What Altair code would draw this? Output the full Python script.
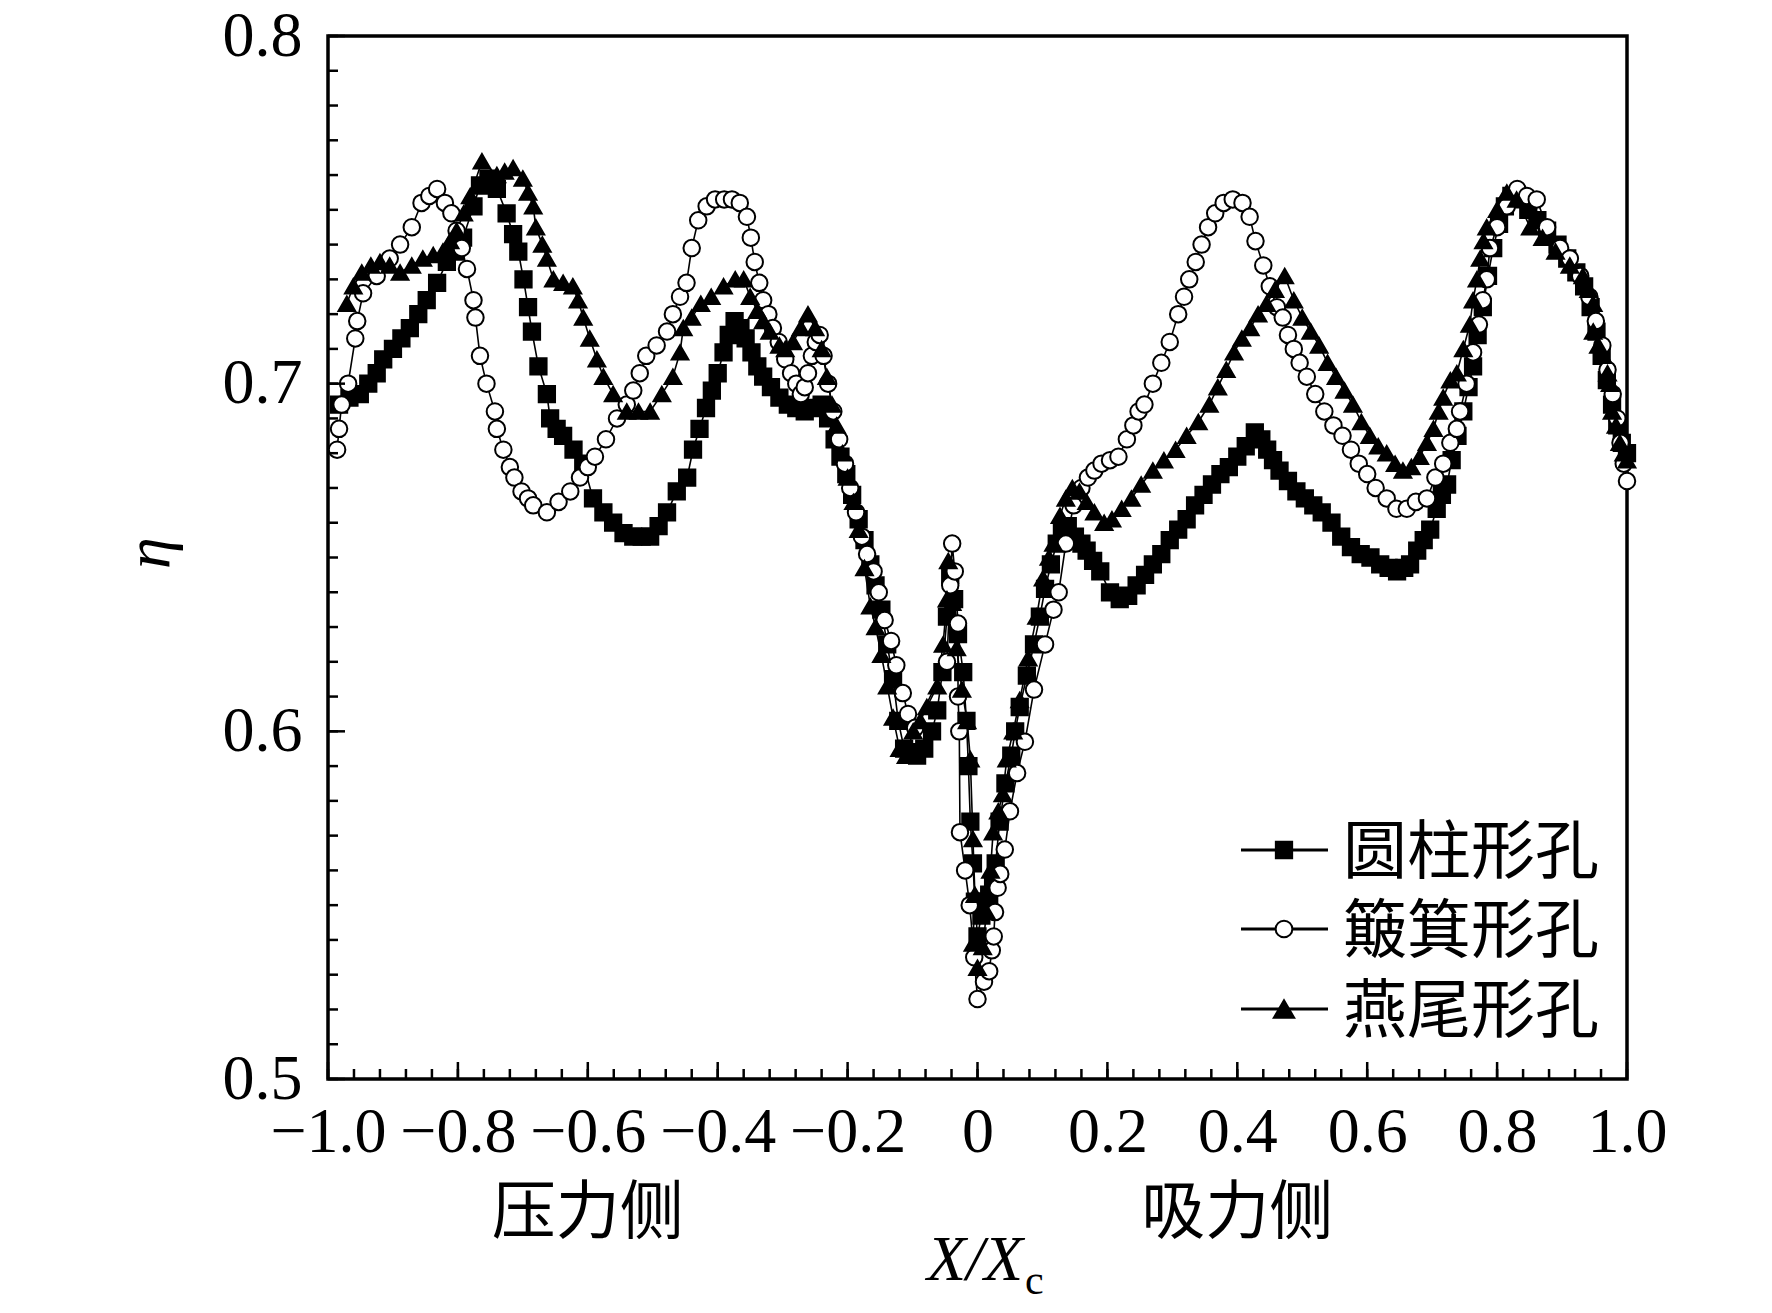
import altair as alt
import pandas as pd

# ---------------- data ----------------
names = ["圆柱形孔", "簸箕形孔", "燕尾形孔"]

cyl_x = [-0.983, -0.967, -0.951, -0.938, -0.925, -0.915, -0.900, -0.887, -0.874, -0.861,
         -0.848, -0.832, -0.817, -0.804, -0.792, -0.776, -0.766, -0.753, -0.740, -0.725,
         -0.715, -0.707, -0.699, -0.692, -0.686, -0.676, -0.663, -0.658, -0.648, -0.638,
         -0.622, -0.607, -0.592, -0.576, -0.561, -0.545, -0.530, -0.517, -0.504, -0.491,
         -0.478, -0.463, -0.447, -0.438, -0.428, -0.418, -0.409, -0.400, -0.391, -0.383,
         -0.374, -0.365, -0.357, -0.348, -0.339, -0.330, -0.318, -0.305, -0.292, -0.279,
         -0.266, -0.252, -0.240, -0.230, -0.220, -0.211, -0.202, -0.193, -0.183, -0.174,
         -0.165, -0.157, -0.148, -0.139, -0.130, -0.122, -0.113, -0.104, -0.093, -0.082,
         -0.070, -0.062, -0.054, -0.047, -0.042, -0.036, -0.030, -0.022, -0.017, -0.014,
         -0.011, -0.007, -0.004, 0.000, 0.006, 0.012, 0.018, 0.024, 0.028, 0.034,
         0.043, 0.052, 0.058, 0.065, 0.076, 0.087, 0.096, 0.104, 0.113, 0.122,
         0.130, 0.139, 0.150, 0.160, 0.168, 0.178, 0.189, 0.204, 0.219, 0.232,
         0.245, 0.258, 0.270, 0.283, 0.296, 0.309, 0.322, 0.335, 0.348, 0.361,
         0.374, 0.387, 0.400, 0.413, 0.427, 0.437, 0.446, 0.455, 0.465, 0.478,
         0.491, 0.504, 0.517, 0.530, 0.545, 0.560, 0.575, 0.590, 0.605, 0.620,
         0.633, 0.646, 0.657, 0.666, 0.677, 0.687, 0.697, 0.707, 0.715, 0.723,
         0.730, 0.739, 0.748, 0.756, 0.763, 0.770, 0.778, 0.786, 0.794, 0.803,
         0.812, 0.822, 0.835, 0.848, 0.862, 0.877, 0.893, 0.908, 0.922, 0.934,
         0.944, 0.953, 0.961, 0.969, 0.977, 0.985, 0.992, 1.000]
cyl_y = [0.694, 0.696, 0.697, 0.700, 0.703, 0.707, 0.710, 0.713, 0.716, 0.720,
         0.724, 0.729, 0.735, 0.738, 0.742, 0.751, 0.757, 0.759, 0.756, 0.749,
         0.743, 0.738, 0.730, 0.722, 0.715, 0.705, 0.697, 0.690, 0.687, 0.685,
         0.681, 0.677, 0.667, 0.663, 0.660, 0.657, 0.656, 0.656, 0.656, 0.659,
         0.663, 0.669, 0.673, 0.681, 0.687, 0.693, 0.698, 0.703, 0.709, 0.714,
         0.718, 0.716, 0.713, 0.709, 0.705, 0.702, 0.699, 0.696, 0.694, 0.693,
         0.692, 0.693, 0.694, 0.690, 0.684, 0.679, 0.674, 0.668, 0.661, 0.655,
         0.648, 0.642, 0.635, 0.625, 0.615, 0.603, 0.595, 0.594, 0.593, 0.595,
         0.600, 0.606, 0.617, 0.633, 0.645, 0.638, 0.628, 0.617, 0.603, 0.590,
         0.574, 0.562, 0.551, 0.541, 0.547, 0.551, 0.553, 0.556, 0.562, 0.574,
         0.585, 0.593, 0.600, 0.607, 0.616, 0.625, 0.633, 0.641, 0.648, 0.654,
         0.657, 0.659, 0.656, 0.654, 0.652, 0.649, 0.646, 0.640, 0.638, 0.639,
         0.642, 0.645, 0.648, 0.651, 0.655, 0.658, 0.661, 0.665, 0.668, 0.671,
         0.674, 0.676, 0.679, 0.682, 0.686, 0.684, 0.681, 0.678, 0.675, 0.672,
         0.669, 0.667, 0.665, 0.663, 0.660, 0.656, 0.653, 0.651, 0.650, 0.648,
         0.647, 0.646, 0.647, 0.648, 0.652, 0.655, 0.658, 0.664, 0.668, 0.671,
         0.678, 0.685, 0.692, 0.699, 0.705, 0.714, 0.722, 0.731, 0.739, 0.746,
         0.751, 0.754, 0.753, 0.750, 0.747, 0.744, 0.740, 0.736, 0.732, 0.728,
         0.722, 0.715, 0.708, 0.701, 0.694, 0.688, 0.683, 0.680]

dus_x = [-0.986, -0.983, -0.979, -0.969, -0.958, -0.955, -0.946, -0.925, -0.905, -0.889,
         -0.871, -0.856, -0.844, -0.832, -0.820, -0.810, -0.802, -0.794, -0.786, -0.776,
         -0.773, -0.766, -0.756, -0.743, -0.740, -0.730, -0.720, -0.713, -0.702, -0.692,
         -0.684, -0.663, -0.645, -0.627, -0.612, -0.600, -0.589, -0.572, -0.555, -0.540,
         -0.530, -0.520, -0.510, -0.494, -0.478, -0.469, -0.458, -0.448, -0.440, -0.430,
         -0.417, -0.404, -0.390, -0.378, -0.366, -0.355, -0.349, -0.343, -0.336, -0.330,
         -0.322, -0.315, -0.306, -0.296, -0.287, -0.279, -0.272, -0.266, -0.261, -0.255,
         -0.249, -0.243, -0.237, -0.230, -0.222, -0.213, -0.204, -0.196, -0.187, -0.178,
         -0.170, -0.160, -0.152, -0.143, -0.133, -0.125, -0.115, -0.107, -0.096, -0.047,
         -0.042, -0.039, -0.035, -0.030, -0.030, -0.028, -0.027, -0.019, -0.012, -0.005,
         0.000, 0.010, 0.018, 0.022, 0.025, 0.027, 0.031, 0.035, 0.042, 0.050,
         0.061, 0.073, 0.087, 0.104, 0.117, 0.125, 0.136, 0.148, 0.160, 0.170,
         0.180, 0.191, 0.204, 0.217, 0.230, 0.240, 0.248, 0.257, 0.270, 0.283,
         0.296, 0.309, 0.318, 0.326, 0.336, 0.345, 0.355, 0.366, 0.379, 0.393,
         0.408, 0.419, 0.428, 0.440, 0.450, 0.461, 0.470, 0.478, 0.487, 0.496,
         0.507, 0.520, 0.534, 0.548, 0.562, 0.575, 0.587, 0.600, 0.613, 0.630,
         0.645, 0.661, 0.675, 0.692, 0.705, 0.717, 0.728, 0.738, 0.743, 0.753,
         0.763, 0.772, 0.778, 0.784, 0.789, 0.800, 0.815, 0.831, 0.846, 0.861,
         0.877, 0.897, 0.912, 0.928, 0.942, 0.952, 0.962, 0.970, 0.978, 0.985,
         0.990, 0.995, 1.000]
dus_y = [0.681, 0.687, 0.694, 0.700, 0.713, 0.718, 0.726, 0.731, 0.736, 0.740,
         0.745, 0.752, 0.754, 0.756, 0.752, 0.749, 0.744, 0.739, 0.733, 0.724,
         0.719, 0.708, 0.700, 0.692, 0.687, 0.681, 0.676, 0.673, 0.669, 0.667,
         0.665, 0.663, 0.666, 0.669, 0.673, 0.676, 0.679, 0.684, 0.690, 0.694,
         0.698, 0.703, 0.708, 0.711, 0.715, 0.720, 0.725, 0.729, 0.739, 0.747,
         0.751, 0.753, 0.753, 0.753, 0.752, 0.748, 0.742, 0.735, 0.729, 0.724,
         0.720, 0.716, 0.712, 0.707, 0.703, 0.700, 0.697, 0.699, 0.703, 0.708,
         0.712, 0.714, 0.708, 0.700, 0.692, 0.684, 0.677, 0.670, 0.663, 0.656,
         0.651, 0.646, 0.640, 0.632, 0.626, 0.619, 0.611, 0.605, 0.601, 0.620,
         0.642, 0.654, 0.646, 0.631, 0.610, 0.600, 0.571, 0.560, 0.550, 0.535,
         0.523, 0.528, 0.531, 0.537, 0.541, 0.548, 0.555, 0.559, 0.566, 0.577,
         0.588, 0.597, 0.612, 0.625, 0.635, 0.640, 0.654, 0.665, 0.670, 0.673,
         0.675, 0.677, 0.678, 0.679, 0.684, 0.688, 0.692, 0.694, 0.700, 0.706,
         0.712, 0.720, 0.725, 0.730, 0.735, 0.740, 0.745, 0.749, 0.752, 0.753,
         0.752, 0.748, 0.741, 0.734, 0.728, 0.722, 0.719, 0.714, 0.710, 0.706,
         0.702, 0.697, 0.692, 0.688, 0.685, 0.681, 0.677, 0.674, 0.670, 0.667,
         0.664, 0.664, 0.666, 0.667, 0.673, 0.677, 0.683, 0.687, 0.692, 0.700,
         0.709, 0.717, 0.724, 0.730, 0.739, 0.745, 0.751, 0.756, 0.754, 0.753,
         0.745, 0.739, 0.736, 0.731, 0.725, 0.718, 0.711, 0.704, 0.697, 0.690,
         0.683, 0.677, 0.672]

dov_x = [-0.971, -0.961, -0.948, -0.934, -0.920, -0.905, -0.889, -0.871, -0.854, -0.838,
         -0.823, -0.812, -0.802, -0.791, -0.781, -0.763, -0.740, -0.728, -0.715, -0.700,
         -0.692, -0.684, -0.680, -0.670, -0.663, -0.653, -0.638, -0.623, -0.615, -0.607,
         -0.597, -0.586, -0.576, -0.561, -0.540, -0.522, -0.504, -0.486, -0.469, -0.458,
         -0.453, -0.440, -0.426, -0.410, -0.391, -0.373, -0.360, -0.350, -0.339, -0.330,
         -0.320, -0.305, -0.296, -0.284, -0.272, -0.261, -0.250, -0.240, -0.232, -0.224,
         -0.217, -0.208, -0.200, -0.191, -0.183, -0.174, -0.165, -0.157, -0.148, -0.139,
         -0.130, -0.120, -0.110, -0.099, -0.088, -0.078, -0.062, -0.053, -0.047, -0.045,
         -0.039, -0.032, -0.024, -0.016, -0.011, -0.007, -0.004, -0.007, 0.000, 0.008,
         0.014, 0.020, 0.024, 0.032, 0.039, 0.045, 0.055, 0.065, 0.078, 0.091,
         0.101, 0.110, 0.117, 0.127, 0.136, 0.146, 0.157, 0.168, 0.180, 0.195,
         0.207, 0.222, 0.237, 0.252, 0.270, 0.287, 0.305, 0.322, 0.340, 0.357,
         0.370, 0.383, 0.395, 0.407, 0.420, 0.432, 0.445, 0.458, 0.473, 0.487,
         0.500, 0.513, 0.526, 0.539, 0.552, 0.565, 0.578, 0.591, 0.604, 0.617,
         0.630, 0.643, 0.655, 0.668, 0.681, 0.692, 0.702, 0.710, 0.717, 0.728,
         0.738, 0.748, 0.758, 0.763, 0.769, 0.774, 0.779, 0.784, 0.800, 0.815,
         0.830, 0.851, 0.870, 0.890, 0.912, 0.932, 0.941, 0.948, 0.948, 0.956,
         0.963, 0.970, 0.974, 0.977, 0.983, 0.989, 0.995, 1.000]
dov_y = [0.723, 0.728, 0.732, 0.734, 0.735, 0.734, 0.732, 0.734, 0.736, 0.737,
         0.738, 0.741, 0.744, 0.749, 0.754, 0.764, 0.760, 0.761, 0.762, 0.759,
         0.755, 0.751, 0.745, 0.740, 0.736, 0.730, 0.729, 0.728, 0.724, 0.719,
         0.713, 0.707, 0.702, 0.697, 0.692, 0.692, 0.692, 0.697, 0.702, 0.709,
         0.716, 0.719, 0.723, 0.725, 0.728, 0.730, 0.730, 0.725, 0.721, 0.718,
         0.715, 0.711, 0.710, 0.712, 0.716, 0.720, 0.716, 0.710, 0.702, 0.694,
         0.688, 0.680, 0.673, 0.666, 0.658, 0.647, 0.636, 0.630, 0.622, 0.613,
         0.604, 0.595, 0.593, 0.600, 0.603, 0.607, 0.613, 0.625, 0.638, 0.649,
         0.637, 0.624, 0.612, 0.603, 0.592, 0.569, 0.553, 0.539, 0.532, 0.538,
         0.548, 0.560, 0.571, 0.577, 0.582, 0.592, 0.600, 0.609, 0.621, 0.633,
         0.644, 0.650, 0.654, 0.662, 0.667, 0.670, 0.669, 0.666, 0.663, 0.660,
         0.661, 0.664, 0.667, 0.671, 0.675, 0.678, 0.681, 0.685, 0.689, 0.694,
         0.699, 0.704, 0.709, 0.713, 0.716, 0.720, 0.723, 0.727, 0.731, 0.724,
         0.719, 0.715, 0.711, 0.706, 0.702, 0.698, 0.694, 0.689, 0.685, 0.682,
         0.680, 0.677, 0.675, 0.676, 0.679, 0.683, 0.687, 0.692, 0.696, 0.701,
         0.703, 0.710, 0.717, 0.724, 0.730, 0.736, 0.741, 0.745, 0.750, 0.755,
         0.753, 0.745, 0.742, 0.738, 0.734, 0.731, 0.727, 0.723, 0.715, 0.711,
         0.708, 0.703, 0.700, 0.692, 0.688, 0.683, 0.680, 0.678]

x_major = [-1.0, -0.8, -0.6, -0.4, -0.2, 0.0, 0.2, 0.4, 0.6, 0.8, 1.0]
y_major = [0.5, 0.6, 0.7, 0.8]
side_labels = ["压力侧", "吸力侧"]
side_pos = [-0.6, 0.4]

# ---------------- tables ----------------
rows = []
for nm, xs, ys in zip(names, [cyl_x, dus_x, dov_x], [cyl_y, dus_y, dov_y]):
    for i, (a, b) in enumerate(zip(xs, ys)):
        rows.append({"series": nm, "x": a, "y": b, "order": i})
df = pd.DataFrame(rows)

x_minor = [round(-1.0 + 0.04 * i, 2) for i in range(51)]
y_minor = [round(0.5 + 0.01 * i, 2) for i in range(31)]

W, H = 1299, 1043
SERIF = "Liberation Serif"
CJK = "Noto Sans CJK SC"

MARK_SIZES = [265, 280, 420]

xscale = alt.Scale(domain=[-1, 1], nice=False, zero=False)
yscale = alt.Scale(domain=[0.5, 0.8], nice=False, zero=False)
shape_scale = alt.Scale(domain=names, range=["square", "circle", "triangle-up"])
fill_scale = alt.Scale(domain=names, range=["black", "white", "black"])
size_scale = alt.Scale(domain=names, range=MARK_SIZES)

xaxis = alt.Axis(values=x_major, title=None, grid=False, domain=False, ticks=False, tickSize=0,
                 labelExpr="datum.value == 0 ? '0' : replace(format(datum.value, '.1f'), '-', '\u2212')",
                 labelFont=SERIF, labelFontSize=64, labelColor="black", labelPadding=21,
                 labelFlush=False, labelOverlap=False)
yaxis = alt.Axis(values=y_major, title=None, grid=False, domain=False, ticks=False, tickSize=0,
                 format=".1f", labelFont=SERIF, labelFontSize=64, labelColor="black",
                 labelPadding=26, labelFlush=False, labelOverlap=False)


def X(field):
    return alt.X(field, type="quantitative", scale=xscale, axis=xaxis)


def Y(field):
    return alt.Y(field, type="quantitative", scale=yscale, axis=yaxis)


lines = alt.Chart(df).mark_line(color="black", strokeWidth=1.6).encode(
    x=X("x"), y=Y("y"), detail="series:N", order="order:Q")

points = alt.Chart(df).mark_point(filled=True, stroke="black", strokeWidth=2, opacity=1).encode(
    x=X("x"), y=Y("y"),
    shape=alt.Shape("series:N", scale=shape_scale, legend=None),
    fill=alt.Fill("series:N", scale=fill_scale, legend=None),
    size=alt.Size("series:N", scale=size_scale, legend=None))

ydf = pd.DataFrame({"v": y_minor})
ydfM = pd.DataFrame({"v": y_major})
xdf = pd.DataFrame({"v": x_minor})
xdfM = pd.DataFrame({"v": x_major})

ytm = alt.Chart(ydf).mark_rule(color="black", strokeWidth=2.5).encode(
    y=Y("v"), x=alt.value(0), x2=alt.value(10))
ytM = alt.Chart(ydfM).mark_rule(color="black", strokeWidth=2.5).encode(
    y=Y("v"), x=alt.value(0), x2=alt.value(17))
xtm = alt.Chart(xdf).mark_rule(color="black", strokeWidth=2.5).encode(
    x=X("v"), y=alt.value(H), y2=alt.value(H - 10))
xtM = alt.Chart(xdfM).mark_rule(color="black", strokeWidth=2.5).encode(
    x=X("v"), y=alt.value(H), y2=alt.value(H - 17))

sides = alt.Chart(pd.DataFrame({"t": side_labels, "p": side_pos})).mark_text(
    font=CJK, fontSize=64, color="black", align="center", baseline="middle").encode(
    x=X("p"), y=alt.value(1178), text="t:N")

xt1 = alt.Chart(pd.DataFrame({"t": ["X/X"]})).mark_text(
    font=SERIF, fontStyle="italic", fontSize=64, color="black", align="right",
    baseline="alphabetic").encode(x=alt.value(695), y=alt.value(1244), text="t:N")
xt2 = alt.Chart(pd.DataFrame({"t": ["c"]})).mark_text(
    font=SERIF, fontSize=42, color="black", align="left",
    baseline="alphabetic").encode(x=alt.value(697), y=alt.value(1258), text="t:N")
eta = alt.Chart(pd.DataFrame({"t": ["η"]})).mark_text(
    font=SERIF, fontStyle="italic", fontSize=64, color="black", align="center",
    baseline="middle", angle=270).encode(x=alt.value(-178), y=alt.value(517), text="t:N")

layers = [lines, points, ytm, ytM, xtm, xtM, sides, xt1, xt2, eta]

# legend (drawn inside the plot)
leg_y = [814, 893, 973]
leg_shapes = ["square", "circle", "triangle-up"]
leg_fills = ["black", "white", "black"]
for nm, py, shp, fl, sz in zip(names, leg_y, leg_shapes, leg_fills, MARK_SIZES):
    d = pd.DataFrame({"t": [nm]})
    layers.append(alt.Chart(d).mark_rule(color="black", strokeWidth=3).encode(
        x=alt.value(913), x2=alt.value(1000), y=alt.value(py)))
    layers.append(alt.Chart(d).mark_point(shape=shp, filled=True, fill=fl, stroke="black",
                                          strokeWidth=2, size=sz, opacity=1).encode(
        x=alt.value(956), y=alt.value(py)))
    layers.append(alt.Chart(d).mark_text(font=CJK, fontSize=64, color="black", align="left",
                                         baseline="middle").encode(
        x=alt.value(1015), y=alt.value(py + 4), text="t:N"))

chart = alt.layer(*layers).properties(
    width=W, height=H, autosize="none",
    padding={"left": 320, "top": 28, "right": 137, "bottom": 226},
    background="white",
).configure_view(stroke="black", strokeWidth=3.5)

chart.save("out.html", embed_options={"renderer": "svg", "actions": False})
